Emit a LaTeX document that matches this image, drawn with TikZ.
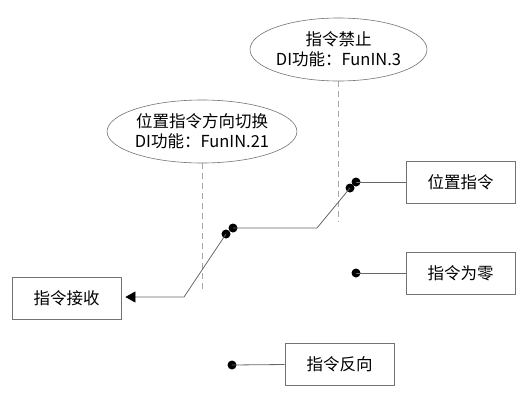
\documentclass[tikz,border=0pt]{standalone}
\usepackage{fontspec}
\setmainfont{Noto Sans CJK SC}
\usetikzlibrary{shapes.geometric,arrows.meta}
\begin{document}
\begin{tikzpicture}[x=1pt,y=-1pt,
  box/.style={draw=black!55,line width=0.8pt,minimum width=109pt,minimum height=42pt,inner sep=0pt,font=\fontsize{16.5}{19}\selectfont},
  oval/.style={ellipse,draw=black!55,line width=0.6pt,minimum width=177pt,minimum height=63pt,inner sep=0pt,align=center,font=\fontsize{16.5}{20}\selectfont},
  wire/.style={draw=black!60,line width=0.8pt},
  guide/.style={draw=black!35,line width=0.9pt,dash pattern=on 6pt off 4pt},
  dot/.style={circle,fill=black,inner sep=0pt,minimum size=9pt}]
\useasboundingbox (0,0) rectangle (519,402);
\node[oval] (e1) at (338.5,49.5) {指令禁止\\DI功能：FunIN.3};
\node[oval] (e2) at (202,131.5) {位置指令方向切换\\DI功能：FunIN.21};
\node[box] (pos) at (460.5,182) {位置指令};
\node[box] (zero) at (460.5,273) {指令为零};
\node[box] (recv) at (66.5,298) {指令接收};
\node[box] (rev) at (339.5,364.5) {指令反向};
\coordinate (c1) at (338.5,222);
\coordinate (c2) at (202,291);
\coordinate (b1) at (317,228);
\coordinate (b2) at (184,297);
\draw[guide] (e1.south) -- (c1);
\draw[guide] (e2.south) -- (c2);
\node[dot] (d1) at (356,182) {};
\node[dot] (d2) at (350,188) {};
\node[dot] (d3) at (233,228) {};
\node[dot] (d4) at (226,234) {};
\node[dot] (d5) at (356,273) {};
\node[dot] (d6) at (232,365) {};
\draw[wire] (pos.west) -- (d1.center);
\draw[wire] (d2.center) -- (b1) -- (d3.center);
\draw[wire,-{Triangle[length=10pt,width=11pt,color=black]},shorten >=4pt] (d4.center) -- (b2) -- (b2 -| recv.east);
\draw[wire] (zero.west) -- (d5.center);
\draw[wire] (rev.west) -- (d6.center);
\end{tikzpicture}
\end{document}
